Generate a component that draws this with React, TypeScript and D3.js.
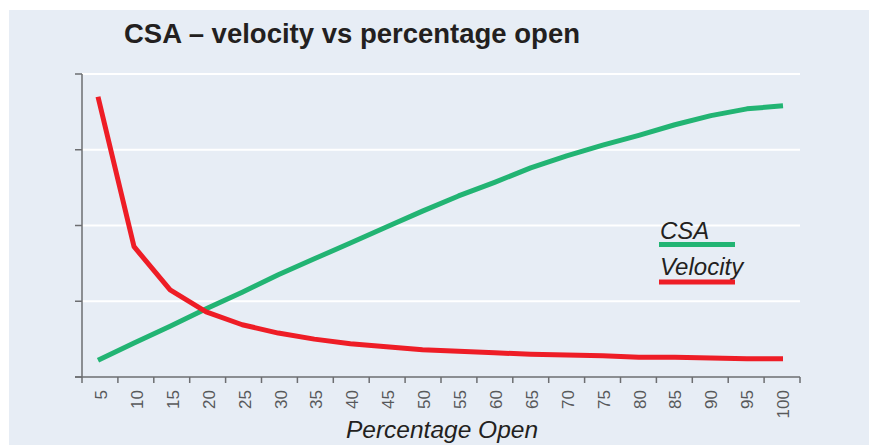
import * as d3 from 'd3'
import React, { useEffect, useRef } from 'react'

// Percentage open categories (x axis)
const percentOpen = ['5', '10', '15', '20', '25', '30', '35', '40', '45', '50',
    '55', '60', '65', '70', '75', '80', '85', '90', '95', '100']

// Series values (grid units, 0..4)
const csaValues = [0.22, 0.45, 0.67, 0.9, 1.12, 1.35, 1.56, 1.77, 1.98, 2.19,
    2.39, 2.57, 2.76, 2.92, 3.06, 3.19, 3.33, 3.45, 3.54, 3.58]
const velocityValues = [3.7, 1.72, 1.15, 0.86, 0.69, 0.58, 0.5, 0.44, 0.4, 0.36,
    0.34, 0.32, 0.3, 0.29, 0.28, 0.26, 0.26, 0.25, 0.24, 0.24]

// y ticks (unlabelled in the original)
const yTicks = [0, 1, 2, 3, 4]

const seriesNames = ['CSA', 'Velocity']
const seriesColors = ['#22b473', '#ee1d26']

const App = () => {
    const w = 869
    const h = 445
    const myRef = useRef<SVGSVGElement>(null)

    useEffect(() => {
        const svg = d3.select(myRef.current)
        svg.selectAll('*').remove()

        // Panel background
        svg.append('rect')
            .attr('x', 9).attr('y', 10)
            .attr('width', w - 9).attr('height', h - 10)
            .attr('fill', '#e7edf5')

        // Scales
        const xBand = d3.scaleBand().domain(percentOpen).range([82, 800])
        const xPoint = d3.scalePoint().domain(percentOpen).range([98, 783])
        const y = d3.scaleLinear().domain([0, 4]).range([377, 74])

        // Title
        svg.append('text')
            .attr('x', 124).attr('y', 43)
            .attr('font-family', '"Liberation Sans", Arial, sans-serif')
            .attr('font-weight', 'bold')
            .attr('font-size', 27)
            .attr('fill', '#231f20')
            .attr('textLength', 456)
            .attr('lengthAdjust', 'spacingAndGlyphs')
            .text('CSA – velocity vs percentage open')

        // Gridlines
        svg.append('g')
            .selectAll('line')
            .data(yTicks.filter((t) => t > 0))
            .enter()
            .append('line')
            .attr('x1', 82).attr('x2', 800)
            .attr('y1', (d) => y(d)).attr('y2', (d) => y(d))
            .attr('stroke', '#ffffff')
            .attr('stroke-width', 2)

        const axisColor = '#6d6e71'
        const axes = svg.append('g').attr('stroke', axisColor).attr('stroke-width', 1.5)

        // y axis
        axes.append('line')
            .attr('x1', 82).attr('x2', 82)
            .attr('y1', y(4)).attr('y2', y(0))
        axes.selectAll('.ytick')
            .data(yTicks)
            .enter()
            .append('line')
            .attr('class', 'ytick')
            .attr('x1', 75).attr('x2', 82)
            .attr('y1', (d) => y(d)).attr('y2', (d) => y(d))

        // x axis
        axes.append('line')
            .attr('x1', 75).attr('x2', 800)
            .attr('y1', y(0)).attr('y2', y(0))
        const edges = percentOpen.map((c) => xBand(c) as number).concat([800])
        axes.selectAll('.xtick')
            .data(edges)
            .enter()
            .append('line')
            .attr('class', 'xtick')
            .attr('x1', (d) => d).attr('x2', (d) => d)
            .attr('y1', y(0)).attr('y2', y(0) + 6)

        // x tick labels, rotated
        svg.append('g')
            .selectAll('text')
            .data(percentOpen)
            .enter()
            .append('text')
            .attr('transform', (d) => `translate(${(xBand(d) as number) + xBand.bandwidth() / 2 + 1}, 390) rotate(-90)`)
            .attr('text-anchor', 'end')
            .attr('dy', '0.36em')
            .attr('font-family', '"Liberation Sans Narrow", "Arial Narrow", sans-serif')
            .attr('font-size', 17)
            .attr('fill', '#58595b')
            .text((d) => d)

        // x axis title
        svg.append('text')
            .attr('x', 442).attr('y', 438)
            .attr('text-anchor', 'middle')
            .attr('font-family', '"Liberation Sans", Arial, sans-serif')
            .attr('font-style', 'italic')
            .attr('font-size', 24.5)
            .attr('fill', '#231f20')
            .text('Percentage Open')

        // Lines
        const line = d3.line<number>()
            .x((_, i) => xPoint(percentOpen[i]) as number)
            .y((d) => y(d))

        const seriesData = [csaValues, velocityValues]
        svg.append('g')
            .selectAll('path')
            .data(seriesData)
            .enter()
            .append('path')
            .attr('d', (d) => line(d))
            .attr('fill', 'none')
            .attr('stroke', (_, i) => seriesColors[i])
            .attr('stroke-width', 5)
            .attr('stroke-linejoin', 'round')

        // Legend
        const legend = svg.append('g')
            .selectAll('g')
            .data(seriesNames)
            .enter()
            .append('g')
            .attr('transform', (_, i) => `translate(659, ${239 + i * 36})`)
        legend.append('text')
            .attr('x', 1).attr('y', 0)
            .attr('font-family', '"Liberation Sans", Arial, sans-serif')
            .attr('font-style', 'italic')
            .attr('font-size', 24)
            .attr('fill', '#231f20')
            .text((d) => d)
        legend.append('line')
            .attr('x1', 0).attr('x2', 76)
            .attr('y1', (_, i) => 5.5 + i * 1.5).attr('y2', (_, i) => 5.5 + i * 1.5)
            .attr('stroke', (_, i) => seriesColors[i])
            .attr('stroke-width', 5)
    }, [])

    return (
        <div style={{ position: 'absolute', left: 0, top: 0 }}>
            <svg ref={myRef} width={w} height={h} style={{ display: 'block', background: '#ffffff' }} />
        </div>
    )
}

export default App
